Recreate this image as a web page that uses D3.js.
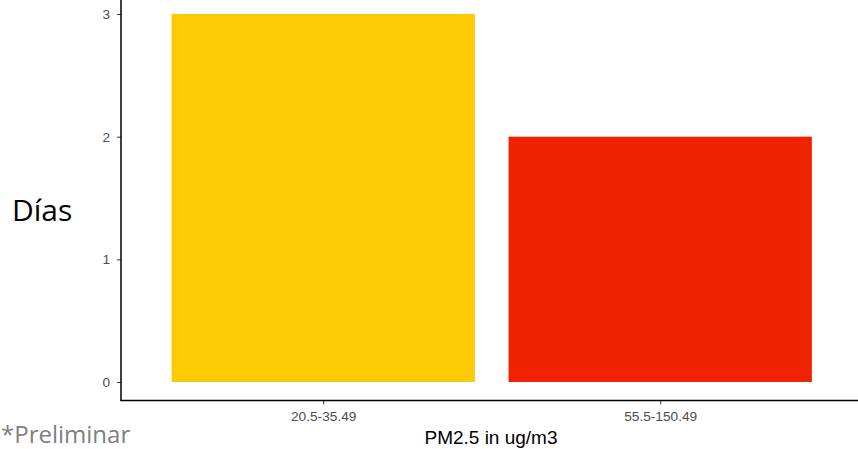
<!DOCTYPE html>
<html><head><meta charset="utf-8">
<script src="https://cdn.jsdelivr.net/npm/d3@7"></script>
<style>body{margin:0;background:#fff;overflow:hidden}svg{display:block}</style>
</head><body>
<script>
const categories = ["20.5-35.49", "55.5-150.49"];
const values = [3, 2];
const colors = ["#FFC904", "#F02300"];
const yTicks = [0, 1, 2, 3];

(function () {
const W = 858, H = 449;
const svg = d3.select("body").append("svg").attr("width", W).attr("height", H);

const x0 = 121, yZero = 382, yThree = 14;
const y = d3.scaleLinear().domain([0, 3]).range([yZero, yThree]);
const panelBottom = y(-0.15), panelTop = y(3.15);
const xc = d3.scaleLinear().domain([0.4, categories.length + 0.6]).range([x0, x0 + 2.2 * 337]);

svg.selectAll("rect.bar").data(values).join("rect")
  .attr("class", "bar")
  .attr("x", (d, i) => xc(i + 1 - 0.45))
  .attr("width", (d, i) => xc(i + 1 + 0.45) - xc(i + 1 - 0.45))
  .attr("y", d => y(d))
  .attr("height", d => y(0) - y(d))
  .attr("fill", (d, i) => colors[i]);

const tickFont = "13.7px 'Liberation Sans', Arial, sans-serif";
const yAxis = svg.append("g").attr("transform", `translate(${x0},0)`)
  .call(d3.axisLeft(y).tickValues(yTicks).tickSize(4).tickPadding(7).tickFormat(d3.format("d")));
yAxis.select(".domain").remove();
yAxis.selectAll("line").attr("stroke", "#333").attr("stroke-width", 1);
yAxis.selectAll("text").attr("fill", "#4d4d4d").style("font", tickFont);

const xAxis = svg.append("g").attr("transform", `translate(0,${panelBottom})`)
  .call(d3.axisBottom(xc).tickValues([1, 2]).tickSize(4).tickPadding(7).tickFormat((d) => categories[d - 1]));
xAxis.select(".domain").remove();
xAxis.selectAll("line").attr("stroke", "#333").attr("stroke-width", 1);
xAxis.selectAll("text").attr("fill", "#4d4d4d").style("font", tickFont);

svg.append("line").attr("x1", x0).attr("x2", x0).attr("y1", panelTop).attr("y2", panelBottom + 0.5)
  .attr("stroke", "#000").attr("stroke-width", 1.5);
svg.append("line").attr("x1", x0 - 0.5).attr("x2", W).attr("y1", panelBottom).attr("y2", panelBottom)
  .attr("stroke", "#000").attr("stroke-width", 1.5);

svg.append("text").attr("x", 491).attr("y", 444).attr("text-anchor", "middle")
  .style("font", "19px 'Liberation Sans', Arial, sans-serif").attr("fill", "#000").text("PM2.5 in ug/m3");

svg.append("text").attr("x", 12).attr("y", 221)
  .style("font", "30px 'Open Sans', 'Noto Sans', sans-serif").attr("fill", "#000").text("Días");

svg.append("text").attr("x", 1).attr("y", 443)
  .style("font", "24px 'Open Sans', 'Noto Sans', sans-serif").attr("fill", "#808080").text("*Preliminar");
})();
</script>
</body></html>
